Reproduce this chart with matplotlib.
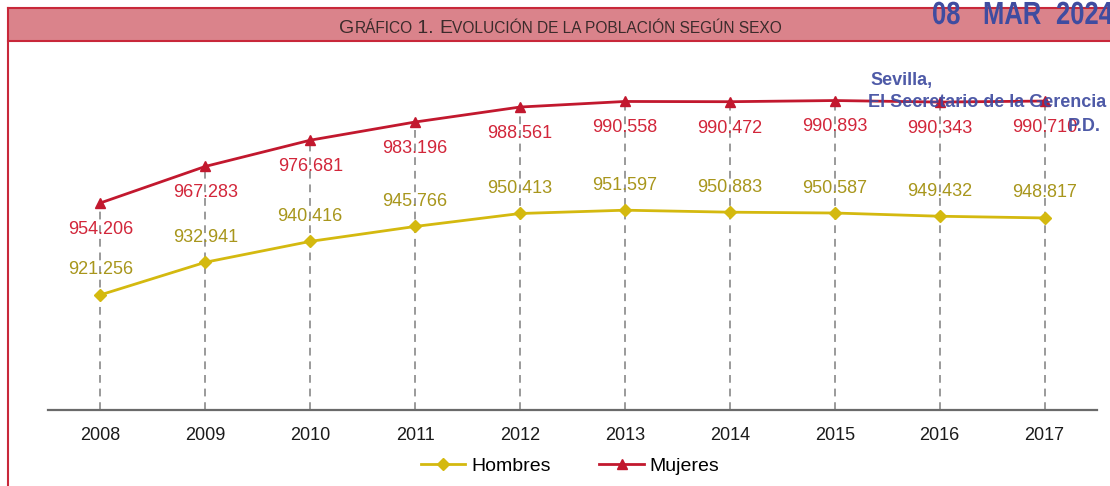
import matplotlib
matplotlib.use('Agg')
import matplotlib.pyplot as plt
from matplotlib.patches import Rectangle, PathPatch
from matplotlib.lines import Line2D
from matplotlib.textpath import TextPath
from matplotlib.font_manager import FontProperties
from matplotlib.transforms import Affine2D

plt.rcParams['font.family'] = ['Liberation Sans', 'DejaVu Sans']

years = [2008, 2009, 2010, 2011, 2012, 2013, 2014, 2015, 2016, 2017]
hombres = [921256, 932941, 940416, 945766, 950413, 951597, 950883, 950587, 949432, 948817]
mujeres = [954206, 967283, 976681, 983196, 988561, 990558, 990472, 990893, 990343, 990710]

C_H_LINE, C_H_TEXT = '#d4b90f', '#a8961c'
C_M_LINE, C_M_TEXT = '#c2182e', '#d2263a'
BAND, BORDER = '#da838b', '#c8283a'
STAMP = '#3f4ca0'

def miles(v):
    return f'{v:,}'.replace(',', '.')

W, H = 1110, 486
fig = plt.figure(figsize=(W / 100, H / 100), dpi=100)

# title band and frame
fig.patches.append(Rectangle((8 / W, 1 - 41 / H), 1, 33 / H, transform=fig.transFigure,
                             facecolor=BAND, edgecolor='none', zorder=0))
fig.add_artist(Line2D([8 / W, 1], [1 - 8 / H] * 2, color=BORDER, lw=1.5, transform=fig.transFigure))
fig.add_artist(Line2D([8 / W, 1], [1 - 41 / H] * 2, color=BORDER, lw=1.5, transform=fig.transFigure))
fig.add_artist(Line2D([8 / W] * 2, [0, 1 - 8 / H], color=BORDER, lw=1.5, transform=fig.transFigure))

# small-caps title, pieces laid out one after another
pieces = [('G', 14), ('RÁFICO', 11.2), (' 1. ', 14), ('E', 14),
          ('VOLUCIÓN DE LA POBLACIÓN SEGÚN SEXO', 11.2)]
base_y = 1 - 33 / H
texts = [fig.text(339 / W, base_y, s, fontsize=fs, color='#3b2b2b', va='baseline')
         for s, fs in pieces]
fig.canvas.draw()
r = fig.canvas.get_renderer()
x = texts[0].get_window_extent(r).x1
for t in texts[1:]:
    t.set_position((x / W, base_y))
    x = t.get_window_extent(r).x1

ax = fig.add_axes([48 / W, 76 / H, 1049 / W, 360 / H])
ax.set_xlim(2007.5, 2017.5)
ax.set_ylim(880000, 1009000)

ax.vlines(years, 880000, mujeres, colors='#9a9a9a', linestyles=(0, (4, 3)), lw=1.4, zorder=1)
ax.plot(years, hombres, color=C_H_LINE, lw=2, marker='D', ms=6, label='Hombres', zorder=3)
ax.plot(years, mujeres, color=C_M_LINE, lw=2, marker='^', ms=7.5, label='Mujeres', zorder=3)

for x_, h, m in zip(years, hombres, mujeres):
    ax.annotate(miles(h), (x_, h), xytext=(0, 18), textcoords='offset points',
                ha='center', va='center', fontsize=13, color=C_H_TEXT)
    ax.annotate(miles(m), (x_, m), xytext=(0, -19), textcoords='offset points',
                ha='center', va='center', fontsize=13, color=C_M_TEXT)

for s in ['top', 'right', 'left']:
    ax.spines[s].set_visible(False)
ax.spines['bottom'].set_color('#6a6a6a')
ax.spines['bottom'].set_linewidth(1.6)
ax.set_yticks([])
ax.set_xticks(years)
ax.tick_params(axis='x', length=0, pad=12, labelsize=13, labelcolor='#1a1a1a')

fig.legend(loc='center', bbox_to_anchor=(570 / W, 1 - 466 / H), ncol=2, frameon=False,
           fontsize=14, handlelength=2.3, columnspacing=2.5, handletextpad=0.3)

# condensed stamp date, drawn as a horizontally squeezed text path (pixel coords)
bold = FontProperties(family='Liberation Sans', weight='bold')
for word, wx in [('08', 932), ('MAR', 983), ('2024', 1056)]:
    tp = TextPath((0, 0), word, size=32, prop=bold)
    tr = Affine2D().scale(0.8, 1.0).translate(wx, H - 24)
    fig.patches.append(PathPatch(tr.transform_path(tp), facecolor=STAMP, edgecolor='none',
                                 transform=None, zorder=10))

fig.text(870 / W, 1 - 80 / H, 'Sevilla,', fontsize=13, fontweight='bold', color=STAMP,
         alpha=0.92, va='center', zorder=10)
fig.text(868 / W, 1 - 102 / H, 'El Secretario de la Gerencia', fontsize=13, fontweight='bold',
         color=STAMP, alpha=0.92, va='center', zorder=10)
fig.text(1068 / W, 1 - 126 / H, 'P.D.', fontsize=13, fontweight='bold', color=STAMP,
         alpha=0.92, va='center', zorder=10)

fig.savefig('out.png', dpi=100)
